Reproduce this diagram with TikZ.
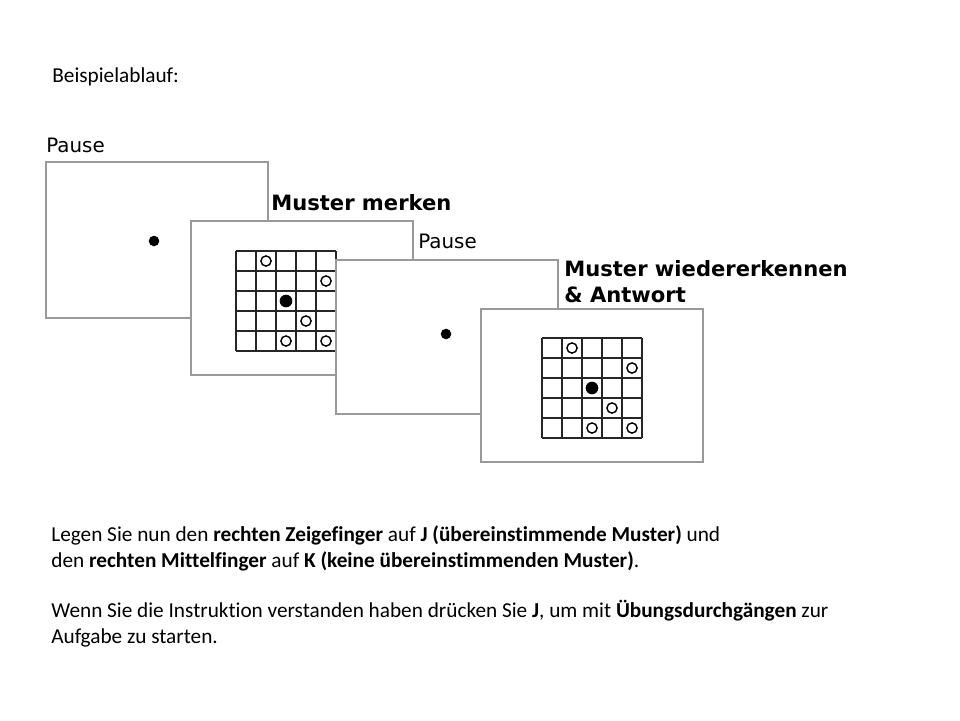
\documentclass[tikz,border=0pt]{standalone}
\usepackage{fontspec}
\setmainfont{Carlito}[Ligatures=NoCommon]
\newfontfamily\verdana{DejaVu Sans}

% one 5x5 pattern, top left corner at (#1,#2)
\newcommand\mustergrid[2]{%
  \foreach \i in {0,...,5} {
    \draw[gridline] (#1+\i*20,#2) -- (#1+\i*20,#2+100);
    \draw[gridline] (#1,#2+\i*20) -- (#1+100,#2+\i*20);
  }
  \foreach \c/\r in {2/1,5/2,4/4,3/5,5/5}
    \draw[ring] (#1+\c*20-10,#2+\r*20-10) circle[radius=2.9pt];
  \fill (#1+50,#2+50) circle[radius=3.6pt];
}

\begin{document}
\begin{tikzpicture}[x=0.02cm,y=-0.02cm,
    screen/.style={draw=black!40,fill=white,line width=0.7pt},
    gridline/.style={draw=black!85,line width=1.1pt},
    ring/.style={draw=black,line width=0.8pt},
    caption/.style={anchor=base west,inner sep=0pt,font=\verdana\fontsize{11.3}{13}\selectfont},
    bcaption/.style={caption,font=\verdana\bfseries\fontsize{12}{14}\selectfont},
    body/.style={anchor=base west,inner sep=0pt,font=\fontsize{12.1}{14}\selectfont}]
  \useasboundingbox (0,0) rectangle (960,720);

  \node[body] (title) at (52,82) {Beispielablauf:};

  % the four screens
  \draw[screen] (46,162) rectangle (268,318);
  \fill (154,241) circle[radius=3pt];
  \draw[screen] (191,221) rectangle (413,375);
  \mustergrid{236}{251}
  \draw[screen] (336,260) rectangle (558,414);
  \fill (446,334) circle[radius=3pt];
  \draw[screen] (481,309) rectangle (703,462);
  \mustergrid{542}{338}

  \node[caption] (pause1) at (46,152) {Pause};
  \node[bcaption] (merken) at (271,210) {Muster merken};
  \node[caption] (pause2) at (418,248) {Pause};
  \node[bcaption] (wieder) at (564,276) {Muster wiedererkennen};
  \node[bcaption] (antwort) at (564,302) {\& Antwort};

  % instructions
  \node[body] (line1) at (51,541) {Legen Sie nun den \textbf{rechten Zeigefinger} auf \textbf{J (übereinstimmende Muster)} und};
  \node[body] (line2) at (51,567) {den \textbf{rechten Mittelfinger} auf \textbf{K (keine übereinstimmenden Muster)}.};
  \node[body] (line3) at (51,617) {Wenn Sie die Instruktion verstanden haben drücken Sie \textbf{J}, um mit \textbf{Übungsdurchgängen} zur};
  \node[body] (line4) at (51,643) {Aufgabe zu starten.};
\end{tikzpicture}
\end{document}
